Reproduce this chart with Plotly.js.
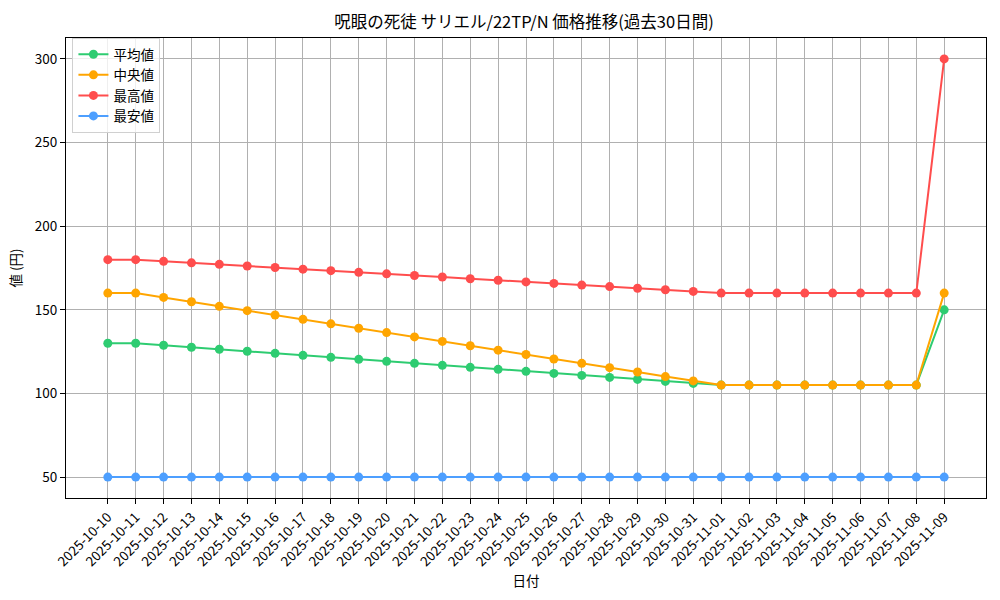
<!DOCTYPE html>
<html>
<head>
<meta charset="utf-8">
<script src="https://cdn.plot.ly/plotly-3.0.1.min.js"></script>
<style>
  html, body { margin: 0; padding: 0; background: #fff; }
  #chart { width: 1000px; height: 600px; }
</style>
</head>
<body>
<div id="chart"></div>
<script>
const dates = [
  "2025-10-10", "2025-10-11", "2025-10-12", "2025-10-13", "2025-10-14", "2025-10-15",
  "2025-10-16", "2025-10-17", "2025-10-18", "2025-10-19", "2025-10-20", "2025-10-21",
  "2025-10-22", "2025-10-23", "2025-10-24", "2025-10-25", "2025-10-26", "2025-10-27",
  "2025-10-28", "2025-10-29", "2025-10-30", "2025-10-31", "2025-11-01", "2025-11-02",
  "2025-11-03", "2025-11-04", "2025-11-05", "2025-11-06", "2025-11-07", "2025-11-08",
  "2025-11-09"
];

const avgPrice = [
  130, 130, 128.8, 127.6, 126.4, 125.2, 124, 122.8, 121.6, 120.4, 119.2, 118,
  116.8, 115.6, 114.4, 113.2, 112, 110.8, 109.6, 108.4, 107.2, 106, 105, 105,
  105, 105, 105, 105, 105, 105, 150
];

const medianPrice = [
  160, 160, 157.4, 154.8, 152.1, 149.5, 146.9, 144.3, 141.6, 139, 136.4, 133.8,
  131.1, 128.5, 125.9, 123.3, 120.6, 118, 115.4, 112.8, 110.1, 107.5, 105, 105,
  105, 105, 105, 105, 105, 105, 160
];

const maxPrice = [
  180, 180, 179, 178.1, 177.2, 176.2, 175.3, 174.3, 173.4, 172.4, 171.5, 170.5,
  169.6, 168.6, 167.7, 166.7, 165.8, 164.8, 163.9, 162.9, 162, 161, 160, 160,
  160, 160, 160, 160, 160, 160, 300
];

const minPrice = [
  50, 50, 50, 50, 50, 50, 50, 50, 50, 50, 50, 50,
  50, 50, 50, 50, 50, 50, 50, 50, 50, 50, 50, 50,
  50, 50, 50, 50, 50, 50, 50
];

const seriesNames = ["平均値", "中央値", "最高値", "最安値"];
const seriesColors = ["#2ecc71", "#ffa500", "#ff4d4d", "#4d9fff"];
const seriesValues = [avgPrice, medianPrice, maxPrice, minPrice];

const font = "'Noto Sans CJK JP', 'DejaVu Sans', sans-serif";

let traces = seriesValues.map((vals, i) => ({
  x: dates,
  y: vals,
  type: "scatter",
  mode: "lines+markers",
  name: seriesNames[i],
  line: { color: seriesColors[i], width: 2 },
  marker: { color: seriesColors[i], size: 9 }
}));

let layout = {
  width: 1000,
  height: 600,
  paper_bgcolor: "#fff",
  plot_bgcolor: "#fff",
  font: { family: font, size: 13, color: "#000" },
  margin: { l: 66, r: 14, t: 38, b: 102 },
  title: {
    text: "呪眼の死徒 サリエル/22TP/N 価格推移(過去30日間)",
    font: { size: 16.5 },
    x: 0.524,
    xanchor: "center",
    y: 0.963,
    yanchor: "middle"
  },
  xaxis: {
    type: "category",
    range: [-1.5, 31.5],
    tickangle: -45,
    showgrid: true,
    gridcolor: "#b0b0b0",
    gridwidth: 1,
    showline: true,
    linecolor: "#000",
    linewidth: 1,
    mirror: true,
    ticks: "outside",
    ticklen: 5,
    tickcolor: "#000",
    tickfont: { size: 13.5 },
    zeroline: false,
    title: { text: "日付", font: { size: 13.5 }, standoff: 6 }
  },
  yaxis: {
    range: [37.5, 312.5],
    tickvals: [50, 100, 150, 200, 250, 300],
    showgrid: true,
    gridcolor: "#b0b0b0",
    gridwidth: 1,
    showline: true,
    linecolor: "#000",
    linewidth: 1,
    mirror: true,
    ticks: "outside",
    ticklen: 5,
    tickcolor: "#000",
    tickfont: { size: 13.5 },
    zeroline: false,
    title: { text: "値 (円)", font: { size: 13.5 }, standoff: 10 }
  },
  legend: {
    x: 0.007,
    y: 1.0,
    xanchor: "left",
    yanchor: "top",
    bgcolor: "rgba(255,255,255,0.8)",
    bordercolor: "#d0d0d0",
    borderwidth: 1,
    font: { size: 13.5 },
    tracegroupgap: 0
  },
  showlegend: true
};

Plotly.newPlot(document.getElementById("chart"), traces, layout, { displayModeBar: false, staticPlot: true });
</script>
</body>
</html>
